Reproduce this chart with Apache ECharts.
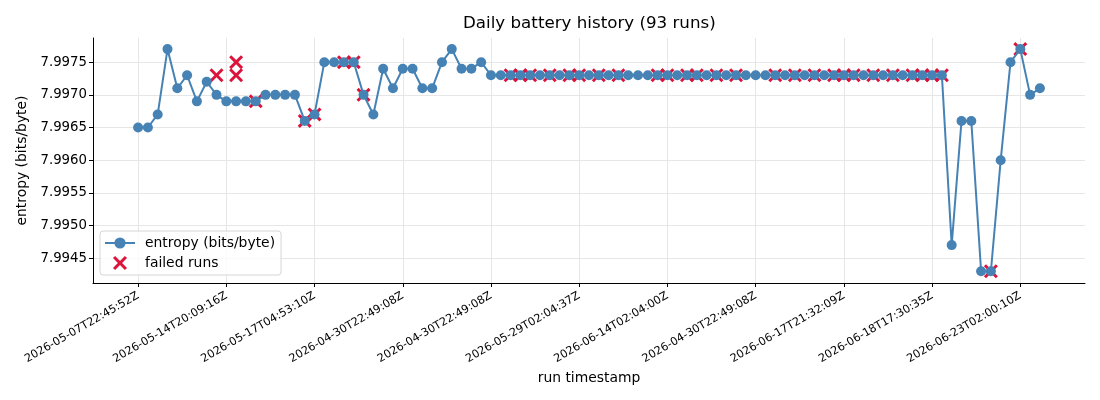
<!DOCTYPE html>
<html>
<head>
<meta charset="utf-8">
<script src="https://cdn.jsdelivr.net/npm/echarts@6/dist/echarts.min.js"></script>
<style>
html,body{margin:0;padding:0;background:#fff;}
#chart{width:1100px;height:400px;}
</style>
</head>
<body>
<div id="chart"></div>
<script>
// entropy per run (run index 0..92)
const entropy = [
  7.9965, 7.9965, 7.9967, 7.9977, 7.9971, 7.9973, 7.9969, 7.9972, 7.9970, 7.9969,
  7.9969, 7.9969, 7.9969, 7.9970, 7.9970, 7.9970, 7.9970, 7.9966, 7.9967, 7.9975,
  7.9975, 7.9975, 7.9975, 7.9970, 7.9967, 7.9974, 7.9971, 7.9974, 7.9974, 7.9971,
  7.9971, 7.9975, 7.9977, 7.9974, 7.9974, 7.9975, 7.9973, 7.9973, 7.9973, 7.9973,
  7.9973, 7.9973, 7.9973, 7.9973, 7.9973, 7.9973, 7.9973, 7.9973, 7.9973, 7.9973,
  7.9973, 7.9973, 7.9973, 7.9973, 7.9973, 7.9973, 7.9973, 7.9973, 7.9973, 7.9973,
  7.9973, 7.9973, 7.9973, 7.9973, 7.9973, 7.9973, 7.9973, 7.9973, 7.9973, 7.9973,
  7.9973, 7.9973, 7.9973, 7.9973, 7.9973, 7.9973, 7.9973, 7.9973, 7.9973, 7.9973,
  7.9973, 7.9973, 7.9973, 7.9947, 7.9966, 7.9966, 7.9943, 7.9943, 7.9960, 7.9975,
  7.9977, 7.9970, 7.9971
];

// failed runs: position and value
const failedIndex = [8, 10, 10, 12, 17, 18, 21, 22, 23,
  38, 39, 40, 42, 44, 45, 47, 49, 53, 54, 56, 57, 59, 61, 65, 67, 69, 71, 72, 73, 75, 77, 79, 80, 81, 82,
  87, 90];
const failedValue = [7.9973, 7.9975, 7.9973, 7.9969, 7.9966, 7.9967, 7.9975, 7.9975, 7.9970,
  7.9973, 7.9973, 7.9973, 7.9973, 7.9973, 7.9973, 7.9973, 7.9973, 7.9973, 7.9973, 7.9973, 7.9973, 7.9973, 7.9973,
  7.9973, 7.9973, 7.9973, 7.9973, 7.9973, 7.9973, 7.9973, 7.9973, 7.9973, 7.9973, 7.9973, 7.9973,
  7.9943, 7.9977];

// x tick positions and labels
const xTickIndex = [0, 9, 18, 27, 36, 45, 54, 63, 72, 81, 90];
const xTickLabels = [
  '2026-05-07T22:45:52Z', '2026-05-14T20:09:16Z', '2026-05-17T04:53:10Z',
  '2026-04-30T22:49:08Z', '2026-04-30T22:49:08Z', '2026-05-29T02:04:37Z',
  '2026-06-14T02:04:00Z', '2026-04-30T22:49:08Z', '2026-06-17T21:32:09Z',
  '2026-06-18T17:30:35Z', '2026-06-23T02:00:10Z'
];
const yTicks = [7.9945, 7.9950, 7.9955, 7.9960, 7.9965, 7.9970, 7.9975];

const lineData = entropy.map((v, i) => [i, v]);
const failedData = failedIndex.map((x, k) => [x, failedValue[k]]);
const labelMap = {};
xTickIndex.forEach((x, k) => { labelMap[x] = xTickLabels[k]; });

const FONT = 'DejaVu Sans';
const XPATH = 'path://M0,3 L3,0 L10,7 L17,0 L20,3 L13,10 L20,17 L17,20 L10,13 L3,20 L0,17 L7,10 Z';

const chart = echarts.init(document.getElementById('chart'), null, {renderer: 'canvas'});
chart.setOption({
  animation: false,
  backgroundColor: '#fff',
  textStyle: {fontFamily: FONT},
  title: {
    text: 'Daily battery history (93 runs)',
    left: 458, top: 10,
    textStyle: {fontFamily: FONT, fontSize: 16.7, fontWeight: 'normal', color: '#000'}
  },
  grid: {left: 93, right: 15, top: 38, bottom: 117, containLabel: false},
  legend: {
    data: ['entropy (bits/byte)', 'failed runs'],
    orient: 'vertical',
    left: 100, top: 231,
    itemWidth: 30, itemHeight: 14, itemGap: 6,
    padding: [5, 6, 5, 4],
    borderColor: '#d6d6d6', borderWidth: 1, borderRadius: 3,
    backgroundColor: 'rgba(255,255,255,0.8)',
    textStyle: {fontFamily: FONT, fontSize: 13.9, color: '#000', padding: [0, 0, 0, 5]}
  },
  xAxis: {
    type: 'value', min: -4.6, max: 96.6,
    name: 'run timestamp', nameLocation: 'middle', nameGap: 88,
    nameTextStyle: {fontFamily: FONT, fontSize: 13.9, color: '#000'},
    axisLine: {show: true, onZero: false, lineStyle: {color: '#000', width: 1}},
    axisTick: {show: true, length: 4, lineStyle: {color: '#000'}, customValues: xTickIndex},
    axisLabel: {
      customValues: xTickIndex, rotate: 30, fontFamily: FONT, fontSize: 11.2, color: '#000', margin: 12,
      formatter: v => labelMap[Math.round(v)] || ''
    },
    splitLine: {show: true, lineStyle: {color: '#e6e6e6', width: 1}}
  },
  yAxis: {
    type: 'value', min: 7.99412, max: 7.99787,
    name: 'entropy (bits/byte)', nameLocation: 'middle', nameGap: 63, nameRotate: 90,
    nameTextStyle: {fontFamily: FONT, fontSize: 13.9, color: '#000'},
    axisLine: {show: true, onZero: false, lineStyle: {color: '#000', width: 1}},
    axisTick: {show: true, length: 4, lineStyle: {color: '#000'}, customValues: yTicks},
    axisLabel: {customValues: yTicks, fontFamily: FONT, fontSize: 13.3, color: '#000', margin: 6,
      formatter: v => Number(v).toFixed(4)},
    splitLine: {show: true, lineStyle: {color: '#e6e6e6', width: 1}}
  },
  series: [
    {
      name: 'failed runs', type: 'scatter', data: failedData, z: 2,
      symbol: XPATH, symbolSize: 14,
      itemStyle: {color: '#dc143c', opacity: 1}
    },
    {
      name: 'entropy (bits/byte)', type: 'line', data: lineData, z: 3,
      symbol: 'circle', symbolSize: 10, showAllSymbol: true,
      lineStyle: {color: '#4682b4', width: 2},
      itemStyle: {color: '#4682b4', borderWidth: 0}
    }
  ]
});
</script>
</body>
</html>
